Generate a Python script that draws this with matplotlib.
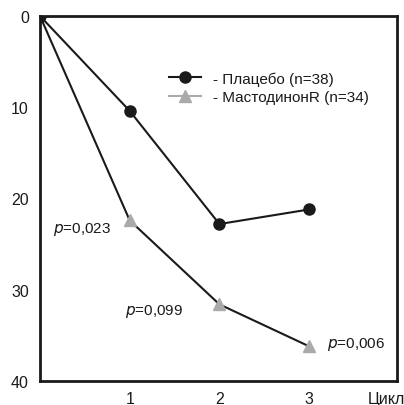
import matplotlib.pyplot as plt
from matplotlib.lines import Line2D

plt.rcParams['font.family'] = ['Liberation Sans', 'DejaVu Sans']

cycles = [0, 1, 2, 3]
placebo = [0, 10.4, 22.8, 21.2]
mastodinon = [0, 22.4, 31.6, 36.2]
p_labels = ['$\\it{p}$=0,023', '$\\it{p}$=0,099', '$\\it{p}$=0,006']
p_cycles = [1, 2, 3]

fs = 11
dark = '#1a1a1a'

fig = plt.figure(figsize=(4.04, 4.06), dpi=100)
ax = fig.add_axes([40 / 404, 1 - 382 / 406, 357 / 404, 365 / 406])

ax.plot(cycles, placebo, color=dark, lw=1.5, marker='o', ms=8,
        mfc=dark, mec=dark, zorder=3)
ax.plot(cycles, mastodinon, color=dark, lw=1.5, zorder=3)
ax.plot(cycles[1:], mastodinon[1:], ls='none', marker='^', ms=9,
        mfc='#aaaaaa', mec='#aaaaaa', zorder=4)

# p-value annotations
offsets = [(-0.86, 0.9), (-1.05, 0.7), (0.2, -0.3)]
for c, lab, (dx, dy) in zip(p_cycles, p_labels, offsets):
    ax.text(c + dx, mastodinon[c] + dy, lab, fontsize=fs, va='center',
            ha='left', color=dark)

ax.set_xlim(0, 3.98)
ax.set_ylim(40, 0)
ax.set_xticks([1, 2, 3])
ax.set_yticks([0, 10, 20, 30, 40])
ax.tick_params(length=0, labelsize=11.5, colors=dark)
ax.tick_params(axis='x', pad=7.5)
ax.tick_params(axis='y', pad=8)
for s in ax.spines.values():
    s.set_linewidth(2)
    s.set_color(dark)

fig.text(368 / 404, 1 - 400 / 406, 'Цикл', fontsize=11.5, ha='left',
         va='center', color=dark)

handles = [
    Line2D([], [], color=dark, lw=1.5, marker='o', ms=8,
           mfc=dark, mec=dark),
    Line2D([], [], color='#aaaaaa', lw=1.5, marker='^', ms=9,
           mfc='#aaaaaa', mec='#aaaaaa'),
]
ax.legend(handles, ['- Плацебо (n=38)', '- МастодинонR (n=34)'],
          loc='upper left', bbox_to_anchor=(0.36, 0.849), frameon=False,
          fontsize=fs, handlelength=2.1, handletextpad=0.8,
          labelspacing=0.3, borderpad=0, borderaxespad=0,
          labelcolor=dark)

fig.savefig('out.png', dpi=100)
